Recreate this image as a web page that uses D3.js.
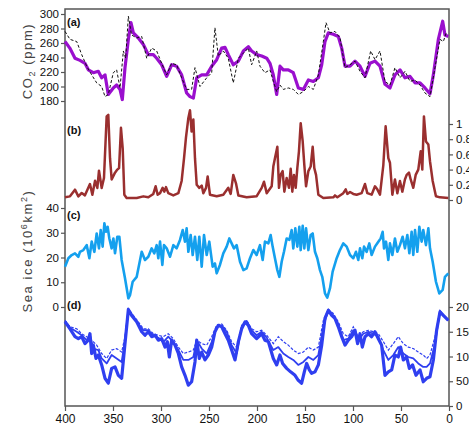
<!DOCTYPE html>
<html>
<head>
<meta charset="utf-8">
<script src="https://cdn.jsdelivr.net/npm/d3@7"></script>
<style>
  body { margin: 0; background: #fff; }
  svg { display: block; font-family: "Liberation Sans", Arial, sans-serif; }
</style>
</head>
<body>
<div id="chart"></div>
<script>
// ---- data: [age (ka), value] ----
const co2Model = [[400,262],[395,253],[389.6,239],[384.4,236],[379.2,232],[375.7,223],[370.5,219],[365.3,221],[361.8,212],[358.3,216],[354.9,189],[349.7,198],[346.2,202],[342.7,196],[340.3,182],[337.5,226],[334,265],[331.3,288],[328.8,274],[323.6,267],[318.4,258],[313.2,244],[308,244],[304.5,239],[299.3,230],[294.1,214],[288.9,230],[283.7,228],[278.5,216],[273.3,191],[269.8,186],[266.3,184],[262.8,212],[257.6,216],[252.4,216],[247.2,228],[242,237],[236.8,253],[233.3,254],[229.9,244],[224.7,230],[219.4,235],[214.2,249],[209,255],[205.6,249],[200.3,244],[195.1,242],[189.9,239],[186.5,232],[183,216],[179.5,189],[176,228],[172.6,223],[167.4,223],[162.2,219],[156.9,198],[151.7,196],[146.5,209],[141.3,207],[136.1,212],[132.6,230],[129.2,262],[125.7,274],[120.5,272],[115.3,269],[111.8,253],[108.3,228],[103.1,228],[97.9,235],[92.7,228],[87.5,214],[82.3,232],[77.1,235],[71.9,228],[66.7,203],[61.5,198],[56.3,216],[51,223],[45.8,212],[40.6,214],[35.4,205],[30.2,205],[25,198],[19.8,190],[16.3,216],[11.1,265],[6.6,290],[4.2,271],[0.7,269]];

const co2Ice = [[400,276],[394.8,265],[387.8,262],[382.6,244],[377.4,228],[372.2,216],[367,205],[361.8,200],[358.3,186],[354.9,189],[349.7,219],[346.2,223],[342.7,198],[339.2,249],[336.8,239],[334,297],[330.6,271],[325.3,267],[320.1,269],[314.9,239],[309.7,253],[304.5,249],[299.3,232],[294.1,216],[288.9,232],[283.7,230],[278.5,212],[273.3,196],[268.1,196],[264.6,226],[259.4,200],[252.4,212],[247.2,219],[243.8,281],[240.3,242],[235.1,249],[229.9,239],[224.7,205],[219.4,239],[214.2,246],[209,253],[205.6,230],[200.3,249],[196.9,228],[191.7,219],[186.5,223],[183,207],[179.5,193],[176,202],[172.6,196],[167.4,198],[162.2,196],[156.9,189],[151.7,193],[146.5,200],[141.3,196],[136.1,216],[130.9,262],[128.1,288],[124,274],[118.8,276],[113.5,267],[108.3,226],[103.1,230],[97.9,235],[92.7,221],[87.5,212],[81.6,249],[77.1,237],[71.9,249],[66.7,207],[61.5,202],[56.3,226],[51,212],[45.8,221],[40.6,207],[35.4,209],[30.2,202],[25,191],[19.8,186],[14.6,226],[9.4,265],[5.9,262],[2.4,276]];

const panelB = [[400,0.035],[394.8,0.048],[389.6,0.136],[386.1,0.048],[382.6,0.092],[379.2,0.061],[374,0.21],[371.5,0.07],[368.7,0.254],[366.3,0.158],[364.6,0.386],[361.8,0.158],[359.4,0.29],[356.6,1.1],[354.9,1.12],[353.1,0.55],[351.4,0.27],[347.9,0.36],[345.5,0.4],[343.7,0.42],[341.7,0.95],[339.9,0.68],[338.2,0.07],[335.8,0.026],[325.3,0.026],[318.4,0.048],[313.2,0.035],[308,0.08],[305.6,0.18],[303.5,0.07],[301,0.09],[298.3,0.16],[296.5,0.11],[294.8,0.17],[292.4,0.09],[287.2,0.06],[281.9,0.09],[278.5,0.25],[276,0.55],[274,0.82],[271.5,1.08],[269.8,1.18],[268.1,0.9],[266.3,1.06],[264.6,0.55],[262.8,0.2],[260.1,0.16],[257.6,0.19],[255.9,0.09],[253.1,0.16],[251.4,0.31],[249,0.07],[242,0.05],[235.1,0.07],[229.9,0.16],[227.4,0.08],[224.7,0.33],[221.9,0.22],[219.4,0.06],[210.8,0.035],[200.3,0.05],[195.1,0.16],[192.7,0.24],[189.9,0.09],[184.7,0.18],[183,0.44],[181.3,0.55],[178.8,0.7],[177.1,0.16],[175.4,0.33],[173.3,0.38],[171.5,0.11],[169.1,0.29],[166.7,0.16],[164.9,0.41],[163.2,0.11],[161.5,0.33],[159.7,0.16],[158,0.42],[156.3,0.64],[154.5,1.01],[152.4,0.77],[150.7,0.46],[148.9,0.18],[146.5,0.38],[144.1,0.44],[142,0.7],[140.3,0.42],[138.5,0.33],[136.1,0.07],[130.9,0.026],[120.5,0.035],[118.8,0.06],[116.3,0.035],[110.1,0.09],[107.6,0.14],[105.9,0.08],[103.1,0.105],[99.7,0.08],[96.2,0.07],[91,0.09],[87.5,0.21],[85.1,0.09],[80.6,0.07],[77.1,0.18],[74.7,0.14],[71.9,0.07],[68.4,0.46],[66,0.97],[63.2,0.55],[61.5,0.49],[59,0.07],[56.3,0.27],[53.8,0.09],[51.1,0.25],[48.6,0.11],[45.9,0.27],[44.1,0.33],[41.7,0.36],[39.9,0.27],[37.2,0.16],[34.7,0.33],[32,0.4],[29.5,0.64],[27.8,0.4],[26.1,1.1],[24,0.77],[21.5,0.73],[19.8,0.51],[17,0.25],[13.6,0.05],[9.4,0.035],[0.7,0.026]];

const seaIce = [[400,16.3],[396.5,19.7],[393,21],[389.6,21.7],[386.1,20.3],[384.4,22.3],[380.9,23],[377.4,25],[374.6,19.7],[372.2,26.4],[369.4,22.3],[367,29.7],[364.6,23.7],[362.8,31.1],[360.8,24.4],[359,33.8],[357.3,30.4],[355.6,32.4],[353.8,27.7],[351.4,23.7],[349.6,27.7],[347.9,21.7],[345.5,28.4],[343.4,28.4],[341,19],[337.5,11.6],[334,3.5],[332.3,4.8],[329.5,10.2],[325.3,12.2],[320.1,22.3],[316.7,19],[313.2,20.3],[309.7,23.7],[307,21.7],[304.5,25],[302.8,19.7],[301,26.4],[298.6,17],[296.9,25],[294.1,23.7],[290.6,20.3],[287.1,25],[283.7,23.7],[280.2,27.1],[277.4,31.1],[275,26.4],[273.3,31.8],[271.5,22.3],[269.1,29.1],[267,21],[264.6,28.4],[262.2,19],[260.1,28.4],[257.6,16.3],[255.2,29.1],[252.4,21],[249.7,26.4],[246.2,16.3],[243.8,17.6],[242,13.6],[238.6,17],[235.1,21.7],[231.6,24.4],[228.8,27.7],[226.4,25.7],[224,23.7],[221.2,25],[217.7,18.3],[214.2,14.9],[210.8,15.6],[207.3,19.7],[203.8,23],[200.4,21],[196.9,25],[194.1,19],[191.7,26.4],[188.2,25.7],[185.8,29.1],[183.7,24.4],[181.3,19.7],[178.8,14.9],[176.7,12.2],[174.3,18.3],[171.9,22.3],[169.1,27.7],[166.3,27.1],[163.9,31.1],[162.2,23.7],[160.1,31.8],[158,24.4],[155.9,32.4],[154.5,23],[152.4,32.8],[150.7,23.7],[148.9,31.8],[146.5,23],[144.1,29.1],[142,29.7],[139.6,22.3],[137.2,19.7],[134.4,14.9],[132,12.2],[129.2,5.5],[126.8,3.8],[124,7.5],[121.2,14.3],[117,19.7],[113.6,23],[110.1,25.7],[106.6,24.4],[103.1,21],[99.7,19.7],[96.9,22.3],[94.5,19],[92.7,23.7],[90.3,19.7],[88.5,24.4],[85.8,22.3],[83,25.7],[80.6,21],[77.1,24.4],[73.6,26.4],[71.2,27.7],[69.1,30.4],[67.7,23.7],[65.6,26.4],[63.2,19],[61.5,25.7],[59,21],[56.3,27.7],[53.8,22.3],[51.1,25],[48.3,28.4],[45.9,23.7],[43.4,29.1],[41.3,21.7],[38.9,30.4],[37.2,21],[35.4,31.1],[33,22.3],[30.9,32.4],[28.5,26.4],[26.8,31.1],[24,25],[21.5,31.8],[19.8,23.7],[17,18.3],[13.6,10.2],[10.1,5.5],[6.6,6.9],[4.2,12.2],[0.7,13.6]];

const dThick = [[400,170],[394.8,156],[389.6,140],[386.1,136],[382.6,140],[379.2,126],[375.7,133],[374,146],[372.2,106],[370.5,123],[367.7,96],[365.3,103],[361.8,83],[358.3,56],[354.9,46],[351.4,76],[347.9,79],[344.4,62],[341,56],[337.5,126],[334,195],[330.6,183],[325.3,170],[320.1,150],[316.7,143],[313.2,150],[309.7,140],[306.2,143],[302.8,133],[299.3,136],[295.8,119],[293.4,130],[291.3,99],[288.9,133],[285.4,123],[281.9,106],[278.5,79],[275,62],[271.5,42],[268.1,49],[264.6,89],[262.8,133],[260.1,96],[257.6,109],[254.2,93],[250.7,103],[247.2,119],[243.8,150],[240.3,163],[236.8,160],[233.3,146],[229.9,133],[226.4,113],[222.9,93],[219.4,130],[216,156],[212.5,170],[209,163],[205.6,146],[200.4,136],[195.1,146],[191.7,133],[188.2,130],[183,96],[179.5,83],[176.1,103],[173.3,86],[169.1,76],[165,69],[160.4,62],[157,52],[153.5,46],[150.7,69],[148.3,86],[145.5,73],[143.1,66],[139.6,69],[136.1,83],[132.6,123],[129.2,177],[125.7,193],[122.2,183],[118.8,177],[115.3,160],[111.8,140],[108.3,123],[104.9,133],[101.4,140],[97.9,153],[95.2,126],[92.7,146],[90.3,119],[87.5,140],[84,146],[80.6,140],[77.1,150],[73.6,136],[70.2,123],[66.7,62],[63.2,69],[59.7,73],[56.3,103],[52.8,99],[50.4,119],[47.6,93],[44.1,99],[41.3,76],[37.9,83],[34.4,62],[30.2,73],[26.8,49],[23.3,56],[19.8,59],[16.3,93],[12.9,153],[9.4,190],[5.9,183],[0.7,173]];

const dMedium = [[400,172],[394.8,158],[387.8,150],[382.6,143],[377.4,133],[374,143],[370.5,116],[365.3,113],[361.8,96],[356.6,86],[351.4,103],[346.2,96],[341,89],[337.5,133],[334,195],[328.8,181],[323.6,166],[318.4,153],[313.2,153],[308,143],[302.8,138],[297.6,129],[292.4,140],[287.2,129],[281.9,113],[276.7,93],[271.5,93],[266.3,99],[262.8,133],[257.6,116],[252.4,106],[247.2,129],[242,160],[236.8,163],[231.6,150],[226.4,123],[221.2,106],[216,160],[210.8,172],[205.6,153],[200.4,143],[195.1,150],[189.9,138],[183,113],[177.8,119],[172.6,106],[167.4,99],[162.2,93],[157,83],[151.7,89],[146.5,99],[141.3,93],[136.1,103],[130.9,160],[125.7,195],[120.5,183],[115.3,166],[110.1,133],[104.9,136],[99.7,153],[94.5,133],[89.3,146],[84,150],[78.8,146],[73.6,140],[68.4,113],[63.2,93],[58,103],[52.8,119],[47.6,106],[42.4,99],[37.2,96],[32,86],[26.8,79],[23.3,79],[19.8,86],[14.6,126],[9.4,192],[5.9,183],[0.7,173]];

const dDashed = [[400,173],[394.8,160],[387.8,156],[382.6,146],[377.4,140],[372.2,133],[367,123],[361.8,106],[356.6,96],[351.4,113],[346.2,116],[341,109],[337.5,140],[334,197],[328.8,183],[323.6,170],[318.4,156],[313.2,156],[308,146],[302.8,143],[297.6,140],[292.4,146],[287.2,136],[281.9,119],[276.7,106],[271.5,109],[266.3,113],[262.8,133],[257.6,126],[252.4,123],[247.2,140],[242,163],[236.8,166],[231.6,153],[226.4,130],[221.2,119],[216,163],[210.8,173],[205.6,156],[200.4,150],[195.1,153],[189.9,143],[183,126],[177.8,140],[172.6,130],[167.4,123],[162.2,113],[157,106],[151.7,109],[146.5,119],[141.3,113],[136.1,119],[130.9,173],[125.7,195],[120.5,187],[115.3,170],[110.1,146],[104.9,140],[99.7,160],[94.5,140],[89.3,150],[84,153],[78.8,150],[73.6,146],[68.4,130],[63.2,113],[58,126],[52.8,140],[47.6,126],[42.4,119],[37.2,116],[32,109],[26.8,103],[23.3,96],[19.8,103],[14.6,140],[9.4,193],[5.9,183],[0.7,173]];

// tick values
const ageTicks = [400, 350, 300, 250, 200, 150, 100, 50, 0];
const co2Ticks = [180, 200, 220, 240, 260, 280, 300];
const bTicks = [0, 0.2, 0.4, 0.6, 0.8, 1];
const iceTicks = [0, 10, 20, 30, 40];
const dTicks = [0, 50, 100, 150, 200];

// ---- layout ----
const W = 469, H = 432;
const frame = {left: 65, right: 449, top: 9, bottom: 406};

const svg = d3.select("#chart").append("svg")
    .attr("width", W)
    .attr("height", H);

const x = d3.scaleLinear().domain([400, 0]).range([frame.left, frame.right]);
const yA = d3.scaleLinear().domain([180, 300]).range([101, 14]);
const yB = d3.scaleLinear().domain([0, 1]).range([200, 124]);
const yC = d3.scaleLinear().domain([0, 40]).range([307, 208]);
const yD = d3.scaleLinear().domain([0, 200]).range([406, 307]);

const axisColor = "#555";

function styleAxis(g) {
    g.select(".domain").remove();
    g.selectAll(".tick line").attr("stroke", axisColor).attr("stroke-width", 1.2);
    g.selectAll(".tick text")
        .attr("fill", "#111")
        .style("font-size", "11.5px")
        .style("font-family", "\"Liberation Sans\", Arial, sans-serif");
}

// frame
svg.append("rect")
    .attr("x", frame.left).attr("y", frame.top)
    .attr("width", frame.right - frame.left).attr("height", frame.bottom - frame.top)
    .attr("fill", "none")
    .attr("stroke", axisColor)
    .attr("stroke-width", 1.5);

// axes
svg.append("g")
    .attr("transform", `translate(0,${frame.bottom})`)
    .call(d3.axisBottom(x).tickValues(ageTicks).tickSize(5).tickPadding(3).tickFormat(d3.format("d")))
    .call(styleAxis)
    .selectAll(".tick text").style("font-size", "12px");

svg.append("g")
    .attr("transform", `translate(${frame.left},0)`)
    .call(d3.axisLeft(yA).tickValues(co2Ticks).tickSize(4).tickPadding(2))
    .call(styleAxis);

svg.append("g")
    .attr("transform", `translate(${frame.left},0)`)
    .call(d3.axisLeft(yC).tickValues(iceTicks).tickSize(4).tickPadding(2))
    .call(styleAxis);

svg.append("g")
    .attr("transform", `translate(${frame.right},0)`)
    .call(d3.axisRight(yB).tickValues(bTicks).tickSize(4).tickPadding(3).tickFormat(d => d === 0 || d === 1 ? d3.format("d")(d) : d3.format(".1f")(d)))
    .call(styleAxis);

svg.append("g")
    .attr("transform", `translate(${frame.right},0)`)
    .call(d3.axisRight(yD).tickValues(dTicks).tickSize(4).tickPadding(3))
    .call(styleAxis);

// axis titles
svg.append("text")
    .attr("transform", "translate(32,61) rotate(-90)")
    .attr("text-anchor", "middle")
    .attr("fill", "#444")
    .style("font-size", "13px")
    .style("letter-spacing", "1.6px")
    .html('CO<tspan font-size="9px" dy="3">2</tspan><tspan dy="-3"> (ppm)</tspan>');

svg.append("text")
    .attr("transform", "translate(32,251) rotate(-90)")
    .attr("text-anchor", "middle")
    .attr("fill", "#444")
    .style("font-size", "13px")
    .style("letter-spacing", "1.6px")
    .html('Sea ice  (10<tspan font-size="9px" dy="-5">6</tspan><tspan dy="5">km</tspan><tspan font-size="9px" dy="-5">2</tspan><tspan dy="5">)</tspan>');

// lines
const lineOf = y => d3.line().x(d => x(d[0])).y(d => y(d[1]));

svg.append("path").datum(seaIce)
    .attr("d", lineOf(yC))
    .attr("fill", "none").attr("stroke", "#14a0ee").attr("stroke-width", 2.6)
    .attr("stroke-linejoin", "round");

svg.append("path").datum(panelB)
    .attr("d", lineOf(yB))
    .attr("fill", "none").attr("stroke", "#9a2f2f").attr("stroke-width", 2.5)
    .attr("stroke-linejoin", "round");

svg.append("path").datum(co2Model)
    .attr("d", lineOf(yA))
    .attr("fill", "none").attr("stroke", "#9a0fce").attr("stroke-width", 3.2)
    .attr("stroke-linejoin", "round");

svg.append("path").datum(co2Ice)
    .attr("d", lineOf(yA))
    .attr("fill", "none").attr("stroke", "#111").attr("stroke-width", 1)
    .attr("stroke-dasharray", "3,2");

svg.append("path").datum(dThick)
    .attr("d", lineOf(yD))
    .attr("fill", "none").attr("stroke", "#2f3ff0").attr("stroke-width", 3.2)
    .attr("stroke-linejoin", "round");

svg.append("path").datum(dMedium)
    .attr("d", lineOf(yD))
    .attr("fill", "none").attr("stroke", "#2f3ff0").attr("stroke-width", 1.8)
    .attr("stroke-linejoin", "round");

svg.append("path").datum(dDashed)
    .attr("d", lineOf(yD))
    .attr("fill", "none").attr("stroke", "#2f3ff0").attr("stroke-width", 1.2)
    .attr("stroke-dasharray", "3,1.5");

// panel labels
const panelLabels = [["(a)", 26], ["(b)", 134], ["(c)", 219], ["(d)", 309]];
svg.selectAll(".plabel")
    .data(panelLabels)
    .enter()
    .append("text")
    .attr("class", "plabel")
    .attr("x", 67)
    .attr("y", d => d[1])
    .attr("fill", "#111")
    .style("font-size", "11px")
    .style("font-weight", "bold")
    .text(d => d[0]);
</script>
</body>
</html>
